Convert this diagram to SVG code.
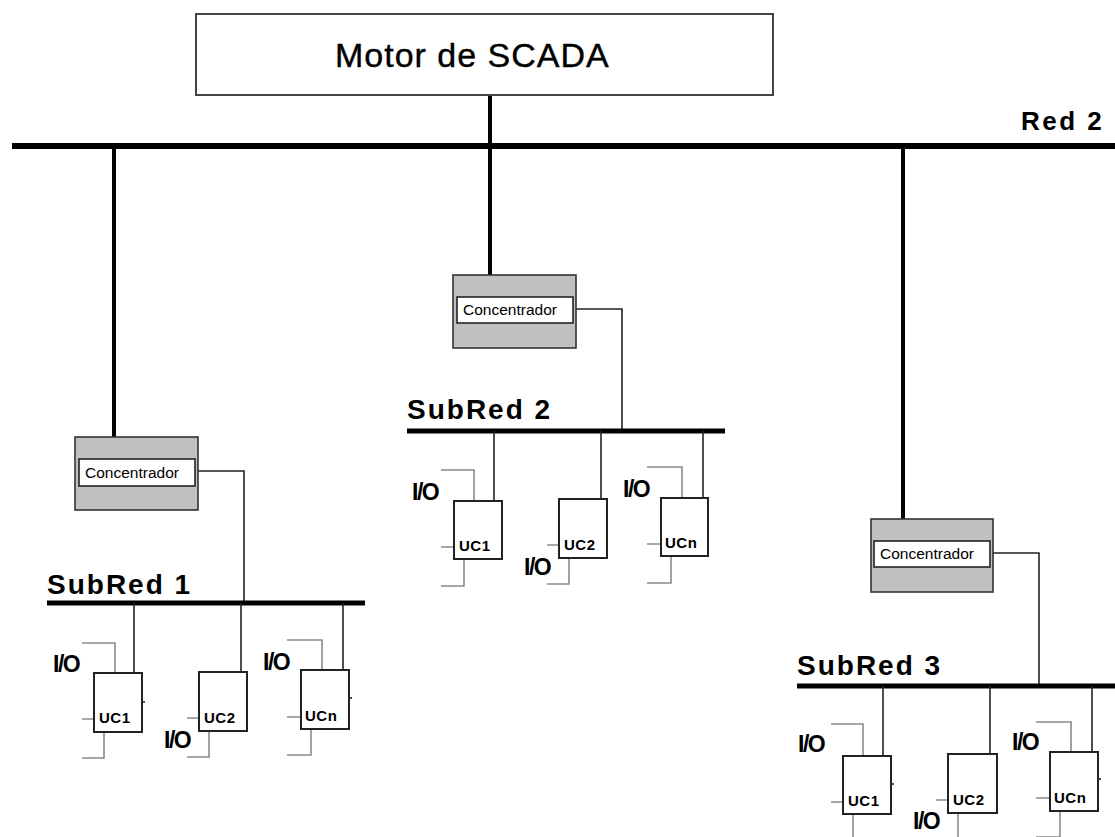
<svg xmlns="http://www.w3.org/2000/svg" width="1115" height="837" viewBox="0 0 1115 837">
  <style>
    .bg { fill: #ffffff; }
    .bus { stroke: #000; stroke-width: 6; fill: none; }
    .sub { stroke: #000; stroke-width: 5; fill: none; }
    .trunk { stroke: #000; stroke-width: 4; fill: none; }
    .link { stroke: #222; stroke-width: 1.6; fill: none; }
    .io { stroke: #8a8a8a; stroke-width: 1.6; fill: none; }
    .motor { fill: #fff; stroke: #444; stroke-width: 2; }
    .conc { fill: #c0c0c0; stroke: #333; stroke-width: 1.6; }
    .inner { fill: #fff; stroke: #222; stroke-width: 1.6; }
    .uc { fill: #fff; stroke: #222; stroke-width: 2; }
    .tick { stroke: #222; stroke-width: 1.6; }
    text { font-family: "Liberation Sans", Arial, sans-serif; fill: #000; }
    .title { font-size: 34px; letter-spacing: 1px; stroke: #000; stroke-width: 0.4px; }
    .net { font-size: 26px; font-weight: bold; letter-spacing: 2.5px; }
    .subnet { font-size: 28px; font-weight: bold; letter-spacing: 2px; }
    .ctext { font-size: 15.5px; }
    .uctext { font-size: 15px; font-weight: bold; letter-spacing: 0.5px; }
    .iotext { font-size: 23px; font-weight: bold; letter-spacing: -1.5px; }
  </style>

  <rect class="bg" x="0" y="0" width="1115" height="837"/>

  <!-- network cabling -->
  <g id="connectors">
    <line class="trunk" x1="490" y1="95" x2="490" y2="146" stroke-width="4.5"/>
    <line class="bus" x1="12" y1="146" x2="1115" y2="146"/>
    <line class="trunk" x1="114" y1="146" x2="114" y2="437"/>
    <line class="trunk" x1="490" y1="146" x2="490" y2="275"/>
    <line class="trunk" x1="903" y1="146" x2="903" y2="519"/>

    <polyline class="link" points="198,471 244,471 244,603"/>
    <polyline class="link" points="576,309 622,309 622,431"/>
    <polyline class="link" points="993,553 1039,553 1039,686"/>

    <line class="sub" x1="47" y1="603" x2="365" y2="603"/>
    <line class="sub" x1="407" y1="431" x2="725" y2="431"/>
    <line class="sub" x1="797" y1="686" x2="1115" y2="686"/>

    <!-- SubRed 1 drops -->
    <line class="link" x1="134" y1="603" x2="134" y2="673"/>
    <line class="link" x1="241" y1="603" x2="241" y2="672"/>
    <line class="link" x1="343" y1="603" x2="343" y2="670"/>
    <!-- SubRed 2 drops -->
    <line class="link" x1="494" y1="431" x2="494" y2="501"/>
    <line class="link" x1="601" y1="431" x2="601" y2="499"/>
    <line class="link" x1="703" y1="431" x2="703" y2="498"/>
    <!-- SubRed 3 drops -->
    <line class="link" x1="883" y1="686" x2="883" y2="756"/>
    <line class="link" x1="990" y1="686" x2="990" y2="754"/>
    <line class="link" x1="1092" y1="686" x2="1092" y2="752"/>
  </g>

  <!-- SCADA engine -->
  <g id="motor">
    <rect class="motor" x="196" y="14" width="577" height="81"/>
    <text class="title" x="335" y="67">Motor de SCADA</text>
  </g>

  <g id="red2-label">
    <text class="net" x="1021" y="130">Red 2</text>
  </g>

  <!-- concentrators -->
  <g id="concentrador-1">
    <rect class="conc" x="75" y="437" width="123" height="73"/>
    <rect class="inner" x="79" y="459" width="116" height="27"/>
    <text class="ctext" x="85" y="478">Concentrador</text>
  </g>
  <g id="concentrador-2">
    <rect class="conc" x="453" y="275" width="123" height="73"/>
    <rect class="inner" x="457" y="297" width="116" height="26"/>
    <text class="ctext" x="463" y="315">Concentrador</text>
  </g>
  <g id="concentrador-3">
    <rect class="conc" x="871" y="519" width="122" height="73"/>
    <rect class="inner" x="874" y="541" width="116" height="26"/>
    <text class="ctext" x="880" y="559">Concentrador</text>
  </g>

  <!-- subnet labels -->
  <g id="subred-1-label"><text class="subnet" x="47" y="594">SubRed 1</text></g>
  <g id="subred-2-label"><text class="subnet" x="407" y="419">SubRed 2</text></g>
  <g id="subred-3-label"><text class="subnet" x="797" y="675">SubRed 3</text></g>

  <!-- SubRed 1 control units -->
  <g id="sr1-uc1" transform="translate(94,673)">
    <path class="io" d="M-12,-30 H21 V0 M-12,46 H0 M10,59 V85 H-12"/>
    <rect class="uc" x="0" y="0" width="48" height="59"/>
    <line class="tick" x1="48" y1="29" x2="51" y2="29"/>
    <text class="uctext" x="5" y="50">UC1</text>
    <text class="iotext" x="-41" y="-1">I/O</text>
  </g>
  <g id="sr1-uc2" transform="translate(199,672)">
    <path class="io" d="M-12,46 H0 M10,59 V85 H-12"/>
    <rect class="uc" x="0" y="0" width="48" height="59"/>
    <text class="uctext" x="5" y="51">UC2</text>
    <text class="iotext" x="-35" y="76">I/O</text>
  </g>
  <g id="sr1-ucn" transform="translate(301,670)">
    <path class="io" d="M-14,-30 H21 V0 M-14,47 H0 M10,59 V85 H-14"/>
    <rect class="uc" x="0" y="0" width="48" height="59"/>
    <line class="tick" x1="48" y1="28" x2="51" y2="28"/>
    <text class="uctext" x="4" y="51">UCn</text>
    <text class="iotext" x="-38" y="0">I/O</text>
  </g>

  <!-- SubRed 2 control units -->
  <g id="sr2-uc1" transform="translate(454,501)">
    <path class="io" d="M-13,-31 H20 V0 M-13,46 H0 M10,58 V85 H-13"/>
    <rect class="uc" x="0" y="0" width="48" height="58"/>
    <text class="uctext" x="5" y="50">UC1</text>
    <text class="iotext" x="-42" y="-1">I/O</text>
  </g>
  <g id="sr2-uc2" transform="translate(559,499)">
    <path class="io" d="M-12,46 H0 M10,59 V85 H-12"/>
    <rect class="uc" x="0" y="0" width="48" height="59"/>
    <text class="uctext" x="5" y="51">UC2</text>
    <text class="iotext" x="-35" y="76">I/O</text>
  </g>
  <g id="sr2-ucn" transform="translate(661,498)">
    <path class="io" d="M-14,-31 H21 V0 M-14,46 H0 M10,58 V85 H-14"/>
    <rect class="uc" x="0" y="0" width="47" height="58"/>
    <text class="uctext" x="4" y="50">UCn</text>
    <text class="iotext" x="-38" y="-1">I/O</text>
  </g>

  <!-- SubRed 3 control units -->
  <g id="sr3-uc1" transform="translate(843,756)">
    <path class="io" d="M-12,-32 H20 V0 M-12,46 H0 M10,58 V85 H-12"/>
    <rect class="uc" x="0" y="0" width="48" height="58"/>
    <line class="tick" x1="48" y1="28" x2="51" y2="28"/>
    <text class="uctext" x="5" y="50">UC1</text>
    <text class="iotext" x="-45" y="-4">I/O</text>
  </g>
  <g id="sr3-uc2" transform="translate(948,754)">
    <path class="io" d="M-12,46 H0 M10,59 V85 H-12"/>
    <rect class="uc" x="0" y="0" width="49" height="59"/>
    <text class="uctext" x="5" y="51">UC2</text>
    <text class="iotext" x="-35" y="75">I/O</text>
  </g>
  <g id="sr3-ucn" transform="translate(1050,752)">
    <path class="io" d="M-14,-30 H21 V0 M-14,46 H0 M10,59 V85 H-14"/>
    <rect class="uc" x="0" y="0" width="48" height="59"/>
    <line class="tick" x1="48" y1="27" x2="51" y2="27"/>
    <text class="uctext" x="4" y="51">UCn</text>
    <text class="iotext" x="-38" y="-2">I/O</text>
  </g>
</svg>
